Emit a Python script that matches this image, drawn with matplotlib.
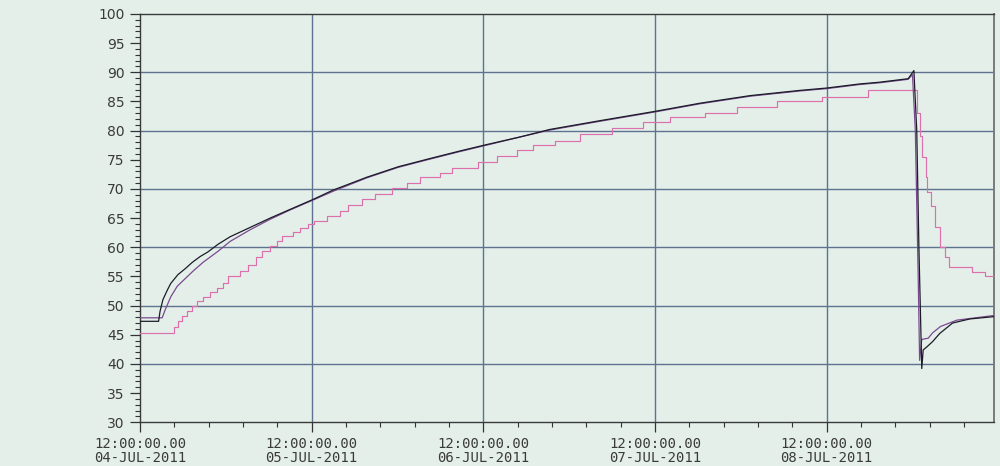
"""Three temperature traces, 04-08 JUL 2011."""

import matplotlib

matplotlib.use("Agg")
import matplotlib.pyplot as plt
from matplotlib.ticker import FixedLocator, MultipleLocator

BG = "#e4efea"
GRID = "#5f7290"

# hours after 12:00 04-JUL-2011
BLACK_T = [0.0, 2.6, 2.8, 3.2, 3.8, 4.3, 5.3, 6.3, 7.3, 8.4, 9.5, 10.9, 12.6, 15.4,
           18.2, 21.0, 24.2, 27.0, 31.7, 36.1, 40.5, 44.7, 48.1, 53.1, 57.3, 64.3,
           72.0, 78.3, 85.3, 92.3, 96.0, 100.6, 103.4, 107.4, 108.2, 108.6, 108.9,
           109.3, 109.5, 110.0, 110.8, 111.8, 113.6, 116.0, 119.4]
BLACK_V = [47.3, 47.3, 49.0, 51.0, 52.6, 53.8, 55.3, 56.3, 57.4, 58.4, 59.2, 60.5, 61.8, 63.4,
           65.0, 66.5, 68.2, 69.8, 72.0, 73.8, 75.2, 76.5, 77.5, 78.9, 80.2, 81.7,
           83.3, 84.7, 86.0, 86.9, 87.3, 88.0, 88.3, 88.9, 90.3, 80.0, 60.0,
           39.2, 42.4, 42.9, 43.8, 45.2, 47.0, 47.7, 48.1]

PURPLE_T = [0.0, 3.1, 3.5, 4.3, 5.2, 6.3, 7.5, 8.8, 10.9, 12.6, 15.4, 18.2, 21.0, 24.2,
            27.0, 31.7, 36.1, 40.5, 44.7, 48.1, 53.1, 57.3, 64.3, 72.0, 78.3, 85.3,
            92.3, 96.0, 100.6, 103.4, 107.4, 108.0, 108.4, 108.8, 109.0, 109.3,
            110.2, 110.8, 111.9, 114.2, 119.4]
PURPLE_V = [47.9, 47.9, 49.2, 51.5, 53.3, 54.6, 56.0, 57.4, 59.3, 61.0, 63.0, 64.8, 66.4, 68.1,
            69.6, 71.9, 73.7, 75.1, 76.4, 77.4, 78.9, 80.1, 81.6, 83.2, 84.6, 85.9,
            86.8, 87.2, 87.9, 88.2, 88.8, 89.6, 80.0, 55.0, 40.6, 44.2,
            44.4, 45.3, 46.4, 47.5, 48.3]

PINK_T = [0.0, 4.8, 5.3, 5.9, 6.6, 7.3, 8.0, 8.8, 9.8, 10.8, 11.6, 12.3, 14.0, 15.1,
          16.2, 17.1, 18.2, 19.1, 19.9, 21.4, 22.4, 23.5, 24.3, 26.1, 28.0, 29.1,
          31.0, 32.8, 35.2, 37.3, 39.1, 41.9, 43.6, 47.2, 49.9, 52.7, 54.9, 58.0,
          61.5, 66.0, 70.3, 74.1, 79.0, 83.4, 89.0, 95.3, 101.8, 108.4, 108.6,
          109.0, 109.4, 109.9, 110.1, 110.6, 111.1, 111.8, 112.5, 113.1, 116.3,
          118.1, 119.4]
PINK_V = [45.3, 46.4, 47.3, 48.2, 49.0, 49.9, 50.8, 51.5, 52.3, 53.0, 53.8, 55.0, 56.0, 57.0,
          58.3, 59.3, 60.2, 61.0, 62.0, 62.6, 63.3, 64.0, 64.5, 65.3, 66.3, 67.2,
          68.2, 69.1, 70.1, 71.1, 72.0, 72.8, 73.6, 74.6, 75.6, 76.6, 77.5, 78.3,
          79.4, 80.4, 81.4, 82.3, 83.1, 84.0, 85.0, 85.8, 87.0, 87.0, 83.0,
          79.0, 75.5, 72.0, 69.5, 67.0, 63.5, 60.0, 58.4, 56.6, 55.8,
          55.0, 55.0]

TICK_HOURS = [0, 24, 48, 72, 96]
TICK_LABELS = [
    "12:00:00.00\n04-JUL-2011",
    "12:00:00.00\n05-JUL-2011",
    "12:00:00.00\n06-JUL-2011",
    "12:00:00.00\n07-JUL-2011",
    "12:00:00.00\n08-JUL-2011",
]


def plot_traces():
    fig = plt.figure(figsize=(10, 4.66), dpi=100, facecolor=BG)
    ax = fig.add_axes([0.14, 0.094, 0.854, 0.876], facecolor=BG)

    ax.plot(PINK_T, PINK_V, color="#dc70ac", lw=0.85, drawstyle="steps-post", zorder=3)
    ax.plot(PURPLE_T, PURPLE_V, color="#7a4a90", lw=0.9, zorder=4)
    ax.plot(BLACK_T, BLACK_V, color="#1c1c28", lw=0.9, zorder=5)

    ax.set_xlim(0, 119.4)
    ax.set_ylim(30, 100)

    ax.xaxis.set_major_locator(FixedLocator(TICK_HOURS))
    ax.set_xticklabels(TICK_LABELS, family="DejaVu Sans Mono", fontsize=10,
                       color="#3a3a3a", linespacing=0.95)
    ax.xaxis.set_minor_locator(MultipleLocator(4.8))

    ax.set_yticks(range(30, 101, 5))
    ax.yaxis.set_minor_locator(MultipleLocator(1))
    ax.tick_params(axis="y", labelsize=10, labelcolor="#3a3a3a")

    ax.tick_params(which="major", direction="out", length=7, width=0.9,
                   color="#333333", pad=4)
    ax.tick_params(which="minor", direction="out", length=3.5, width=0.8,
                   color="#333333")

    for y in range(40, 100, 10):
        ax.axhline(y, color=GRID, lw=1.0, zorder=1)
    for x in TICK_HOURS[1:]:
        ax.axvline(x, color=GRID, lw=1.0, zorder=1)

    for side in ("left", "bottom", "top"):
        ax.spines[side].set_color("#3a3a3a")
        ax.spines[side].set_linewidth(1.0)
    ax.spines["right"].set_color("#7a7a7a")
    ax.spines["right"].set_linewidth(1.4)

    fig.savefig("out.png", dpi=100, facecolor=BG)
    plt.close(fig)


if __name__ == "__main__":
    plot_traces()
